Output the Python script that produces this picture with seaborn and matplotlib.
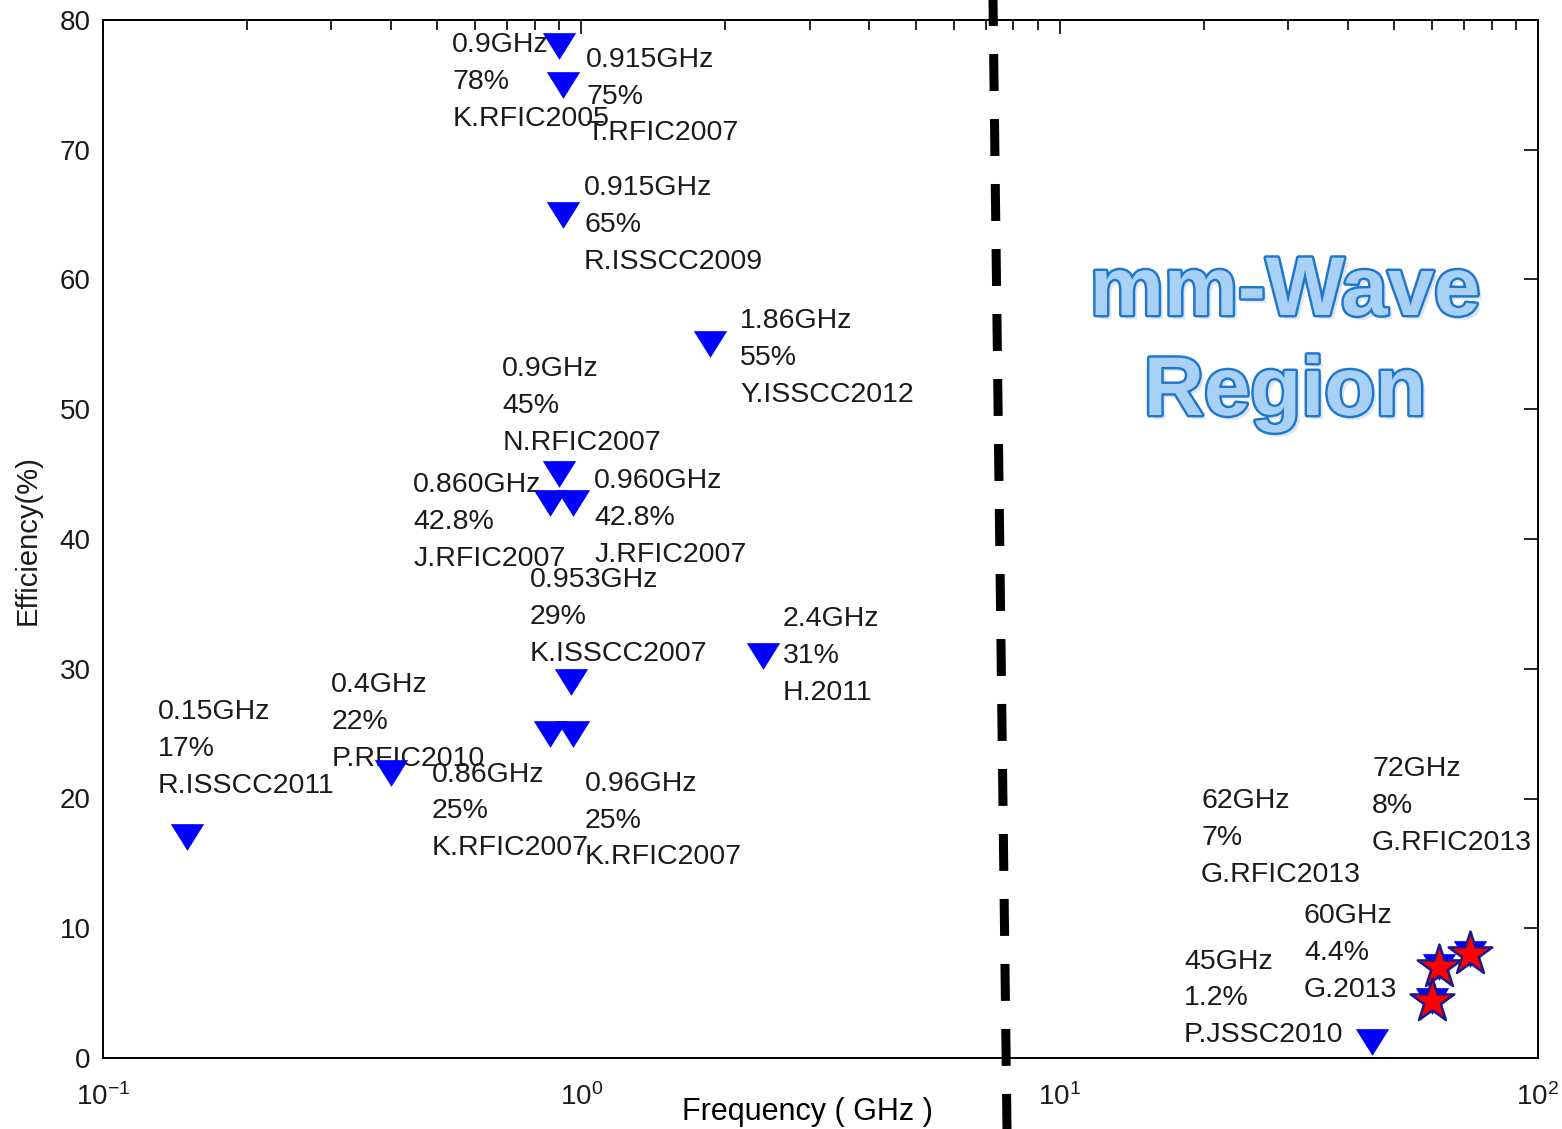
import matplotlib
matplotlib.use("Agg")
import numpy as np
import pandas as pd
import seaborn as sns
import matplotlib.pyplot as plt
from matplotlib.path import Path
from matplotlib.markers import MarkerStyle
from matplotlib.lines import Line2D
import matplotlib.patheffects as pe
from matplotlib.ticker import LogLocator, NullFormatter

# ---------------- data ----------------
freq_ghz = [0.9, 0.915, 0.915, 1.86, 0.9, 0.86, 0.96, 0.953, 2.4,
            0.86, 0.96, 0.4, 0.15, 45, 62, 60, 72]
efficiency = [78, 75, 65, 55, 45, 42.8, 42.8, 29, 31,
              25, 25, 22, 17, 1.2, 7, 4.4, 8]
labels = [
    "0.9GHz\n78%\nK.RFIC2005",
    "0.915GHz\n75%\nT.RFIC2007",
    "0.915GHz\n65%\nR.ISSCC2009",
    "1.86GHz\n55%\nY.ISSCC2012",
    "0.9GHz\n45%\nN.RFIC2007",
    "0.860GHz\n42.8%\nJ.RFIC2007",
    "0.960GHz\n42.8%\nJ.RFIC2007",
    "0.953GHz\n29%\nK.ISSCC2007",
    "2.4GHz\n31%\nH.2011",
    "0.86GHz\n25%\nK.RFIC2007",
    "0.96GHz\n25%\nK.RFIC2007",
    "0.4GHz\n22%\nP.RFIC2010",
    "0.15GHz\n17%\nR.ISSCC2011",
    "45GHz\n1.2%\nP.JSSC2010",
    "62GHz\n7%\nG.RFIC2013",
    "60GHz\n4.4%\nG.2013",
    "72GHz\n8%\nG.RFIC2013",
]
star_freq = [62, 60, 72]
star_eff = [7, 4.4, 8]

# label anchor positions (left edge, vertical centre) in data units
label_x = [0.537, 1.023, 1.013, 2.146, 0.683, 0.445, 1.063, 0.781, 2.64,
           0.487, 1.018, 0.300, 0.130, 18.2, 19.75, 32.4, 45.0]
label_y = [75.2, 74.1, 64.2, 53.95, 50.25, 41.3, 41.6, 34.0, 31.0,
           19.0, 18.3, 25.9, 23.8, 4.6, 16.96, 8.1, 19.4]

xticks = [0.1, 1, 10, 100]
xticklabels = ["$10^{-1}$", "$10^{0}$", "$10^{1}$", "$10^{2}$"]
yticks = [0, 10, 20, 30, 40, 50, 60, 70, 80]

# ---------------- style ----------------
sns.set_theme(style="white")
plt.rcParams['font.family'] = ['Liberation Sans', 'DejaVu Sans']
plt.rcParams['mathtext.default'] = 'regular'
plt.rcParams['axes.unicode_minus'] = False
plt.rcParams['lines.scale_dashes'] = False

W, H = 1562, 1129
fig = plt.figure(figsize=(W / 100, H / 100), dpi=100)
ax = fig.add_axes([103 / W, 1 - 1058 / H, 1435 / W, 1038 / H])

tri = MarkerStyle(Path([(-1, 0.8), (1, 0.8), (0, -0.8), (-1, 0.8)],
                       [Path.MOVETO, Path.LINETO, Path.LINETO, Path.CLOSEPOLY]))

df = pd.DataFrame({"freq": freq_ghz, "eff": efficiency})
sns.scatterplot(data=df, x="freq", y="eff", marker=tri, s=24 ** 2,
                color="#0000FF", edgecolor="#0000FF", linewidth=0,
                ax=ax, zorder=3, legend=False)
sdf = pd.DataFrame({"freq": star_freq, "eff": star_eff})
sns.scatterplot(data=sdf, x="freq", y="eff", marker="*", s=33 ** 2,
                color="#FF0000", edgecolor="#1A1A8C", linewidth=1.8,
                ax=ax, zorder=4, legend=False)

ax.set_xscale("log")
ax.set_xlim(0.1, 100)
ax.set_ylim(0, 80)
ax.set_xticks(xticks)
ax.set_xticklabels(xticklabels)
ax.xaxis.set_minor_locator(LogLocator(base=10, subs=np.arange(2, 10)))
ax.xaxis.set_minor_formatter(NullFormatter())
ax.set_yticks(yticks)
ax.set_yticklabels([str(v) for v in yticks])

ax.tick_params(which="both", direction="in", top=True, right=True,
               color="black", width=1.2, labelcolor="#1a1a1a")
ax.tick_params(which="major", length=10)
ax.tick_params(which="minor", length=7)
ax.tick_params(axis="x", which="major", labelsize=20, pad=18)
ax.tick_params(axis="y", which="major", labelsize=20, pad=9)
for sp in ax.spines.values():
    sp.set_color("black")
    sp.set_linewidth(1.4)
ax.grid(False)

ax.set_xlabel("Frequency ( GHz )", fontsize=22, color="black")
ax.xaxis.set_label_coords((807 - 103) / 1435, (1058 - 1112) / 1038)
ax.xaxis.label.set_va("center")
ax.set_ylabel("Efficiency(%)", fontsize=21, color="#1a1a1a")
ax.yaxis.set_label_coords((28 - 103) / 1435, (1058 - 540) / 1038)
ax.yaxis.label.set_va("center")
ax.yaxis.label.set_ha("center")

for lx, ly, t in zip(label_x, label_y, labels):
    ax.text(lx, ly, t, ha="left", va="center", fontsize=20.5,
            linespacing=1.54, color="#1a1a1a", zorder=2)

# mm-Wave region title
effects = [pe.SimplePatchShadow(offset=(3, -3), shadow_rgbFace="#7a9cc0", alpha=0.25),
           pe.Stroke(linewidth=3.5, foreground="#1E76CE"), pe.Normal()]
ax.text((1285 - 103) / 1435, (1058 - 315) / 1038, "mm-Wave", transform=ax.transAxes,
        ha="center", va="baseline", fontsize=60, fontweight="bold",
        color="#A9D1F5", path_effects=effects, zorder=5)
ax.text((1285 - 103) / 1435, (1058 - 415) / 1038, "Region", transform=ax.transAxes,
        ha="center", va="baseline", fontsize=60, fontweight="bold",
        color="#A9D1F5", path_effects=effects, zorder=5)

# dashed divider drawn across the figure
divider = Line2D([993 / W, 1007 / W], [1, 0], transform=fig.transFigure,
                 color="black", lw=6.5, linestyle=(7.9, (26.6, 20.2)),
                 dash_capstyle="butt", zorder=10)
fig.add_artist(divider)

fig.savefig("out.png", dpi=100, facecolor="white")
